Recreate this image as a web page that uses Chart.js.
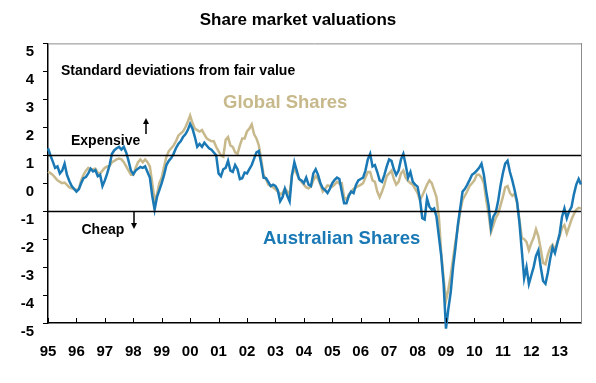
<!DOCTYPE html>
<html><head><meta charset="utf-8">
<script src="https://cdn.jsdelivr.net/npm/chart.js@4.4.1/dist/chart.umd.min.js"></script>
<style>html,body{margin:0;padding:0;background:#fff}canvas{display:block}</style>
</head><body>
<canvas id="c" width="596" height="383"></canvas>
<script>
const startYear = 1995;
const yearLabels = ['95','96','97','98','99','00','01','02','03','04','05','06','07','08','09','10','11','12','13'];

// monthly, Jan 1995 .. Oct 2013 (standard deviations from fair value)
const australianShares = [
  1.25, 1.0, 0.78, 0.55, 0.6, 0.35, 0.45, 0.7, 0.3, 0.08, -0.1, -0.2,
  -0.3, -0.22, 0.0, 0.18, 0.22, 0.35, 0.52, 0.42, 0.47, 0.25, 0.3, -0.1,
  0.1, 0.35, 0.65, 1.05, 1.18, 1.25, 1.3, 1.2, 1.3, 1.1, 0.8, 0.45,
  0.32, 0.45, 0.52, 0.58, 0.55, 0.6, 0.4, 0.2, -0.45, -0.95, -0.5, -0.25,
  0.0, 0.3, 0.65, 0.8, 0.9, 1.05, 1.25, 1.4, 1.5, 1.65, 1.75, 1.9,
  2.12, 1.95, 1.65, 1.3, 1.4, 1.3, 1.45, 1.35, 1.25, 1.2, 1.1, 1.0,
  0.35, 0.25, 0.5, 0.55, 0.8, 0.45, 0.4, 0.65, 0.5, 0.15, 0.18, 0.38,
  0.35, 0.5, 0.65, 0.88, 1.1, 1.15, 0.7, 0.2, 0.18, 0.05, -0.1, -0.05,
  -0.1, -0.25, -0.65, -0.5, -0.2, -0.45, -0.65, 0.3, 0.75, 0.45, 0.15, 0.1,
  0.0, 0.2, -0.05, -0.1, 0.35, 0.5, 0.3, 0.0, -0.18, -0.25, -0.35, -0.2,
  0.0, 0.12, 0.2, 0.15, -0.3, -0.72, -0.72, -0.45, -0.3, -0.35, -0.06, 0.1,
  0.15, 0.2, 0.45, 0.85, 1.05, 0.6, 0.65, 0.4, 0.1, 0.05, 0.3, 0.6,
  0.85, 0.8, 0.5, 0.3, 0.45, 0.85, 1.05, 0.65, 0.2, 0.4, 0.05, -0.05,
  -0.12, -0.55, -1.25, -1.3, -0.55, -0.84, -0.95, -0.9, -1.2, -1.9, -2.6, -3.6,
  -5.2, -4.5, -3.9, -3.0, -2.3, -1.5, -0.9, -0.3, -0.2, -0.05, 0.12, 0.3,
  0.36, 0.45, 0.55, 0.7, 0.3, -0.3, -0.8, -1.6, -1.2, -1.05, -0.65, -0.1,
  0.35, 0.7, 0.8, 0.4, 0.1, -0.25, -0.65, -1.4, -2.4, -3.4, -3.0, -3.6,
  -3.3, -3.0, -2.6, -2.4, -3.0, -3.5, -3.6, -3.2, -2.7, -2.3, -2.5, -2.15,
  -1.8, -1.2, -0.9, -1.25, -1.0, -0.85, -0.4, -0.05, 0.15, -0.05
];
const globalShares = [
  0.41, 0.36, 0.3, 0.2, 0.1, 0.05, 0.0, 0.02, -0.06, -0.15, -0.18, -0.22,
  -0.24, -0.2, 0.1, 0.3, 0.45, 0.55, 0.5, 0.5, 0.52, 0.38, 0.35, 0.45,
  0.55, 0.6, 0.62, 0.75, 0.8, 0.85, 0.88, 0.85, 0.75, 0.6, 0.45, 0.3,
  0.3, 0.55, 0.75, 0.85, 0.75, 0.85, 0.75, 0.6, 0.0, -0.6, -0.4, 0.0,
  0.2, 0.6, 0.95, 1.15, 1.25, 1.35, 1.5, 1.7, 1.78, 1.85, 2.0, 2.2,
  2.42, 2.15, 1.95, 1.9, 1.85, 1.9, 1.75, 1.6, 1.55, 1.5, 1.5, 1.3,
  1.15, 1.0, 0.95, 1.55, 1.65, 1.35, 1.3, 1.1, 1.05, 1.35, 1.6, 1.6,
  1.85, 1.95, 2.1, 1.75, 1.6, 1.35, 0.85, 0.3, 0.15, -0.05, -0.1, -0.15,
  -0.22, -0.3, -0.4, -0.35, -0.2, -0.3, -0.4, 0.3, 0.5, 0.35, 0.15, 0.05,
  -0.05, -0.15, -0.18, -0.12, 0.1, 0.25, 0.15, -0.05, -0.3, -0.2, -0.08, -0.1,
  -0.12, -0.05, 0.05, -0.02, 0.0, -0.5, -0.6, -0.4, -0.3, -0.2, -0.15, -0.1,
  -0.06, 0.0, 0.2, 0.4, 0.4, 0.1, 0.05, -0.3, -0.5, -0.3, -0.05, 0.25,
  0.35, 0.45, 0.15, -0.05, 0.05, 0.35, 0.45, 0.2, 0.08, 0.0, -0.05, -0.2,
  -0.35, -0.6, -0.45, -0.25, -0.05, 0.1, 0.0, -0.25, -0.5, -1.2, -2.5, -3.4,
  -4.2, -3.8, -3.3, -2.7, -2.1, -1.6, -1.0, -0.6, -0.45, -0.28, -0.1, 0.0,
  0.1, 0.3, 0.3, 0.2, 0.0, -0.6, -1.1, -1.75, -1.5, -1.25, -1.1, -0.8,
  -0.5, -0.15, -0.1, -0.35, -0.45, -0.38, -0.7, -1.3, -1.95, -2.0, -2.1, -2.4,
  -2.15, -1.95, -1.65, -1.9, -2.35, -2.85, -2.9, -2.55, -2.3, -2.2, -2.4, -2.1,
  -1.9, -1.6, -1.5, -1.8, -1.55, -1.3, -1.1, -0.95, -0.88, -0.9
];
const bandLevels = [1, -1];

const BLUE = '#1a79b5';
const TAN = '#c7b98c';
const FONT = "'Liberation Sans', Arial, sans-serif";

function toPoints(arr) { return arr.map((v, i) => ({ x: startYear + i / 12, y: v })); }

function arrow(ctx, x, yTail, yHead) {
  const dir = yHead > yTail ? 1 : -1;
  ctx.beginPath();
  ctx.moveTo(x, yTail);
  ctx.lineTo(x, yHead - dir * 4);
  ctx.stroke();
  ctx.beginPath();
  ctx.moveTo(x, yHead);
  ctx.lineTo(x - 3, yHead - dir * 6);
  ctx.lineTo(x + 3, yHead - dir * 6);
  ctx.closePath();
  ctx.fill();
}

const decor = {
  id: 'decor',
  afterDatasetsDraw(chart) {
    const { ctx, chartArea, scales } = chart;
    const xs = scales.x, ys = scales.y;
    ctx.save();
    ctx.strokeStyle = '#000';
    ctx.lineWidth = 1.3;
    bandLevels.forEach(v => {
      const py = Math.round(ys.getPixelForValue(v)) + 0.5;
      ctx.beginPath();
      ctx.moveTo(chartArea.left, py);
      ctx.lineTo(chartArea.right, py);
      ctx.stroke();
    });
    ctx.strokeStyle = '#8c8c8c';
    ctx.lineWidth = 1;
    ctx.beginPath();
    ctx.moveTo(chartArea.left, chartArea.top + 0.5);
    ctx.lineTo(chartArea.right, chartArea.top + 0.5);
    ctx.stroke();
    ctx.strokeStyle = '#000';
    ctx.lineWidth = 1;
    xs.ticks.forEach(t => {
      const px = Math.round(xs.getPixelForValue(t.value)) + 0.5;
      ctx.beginPath();
      ctx.moveTo(px, chartArea.bottom);
      ctx.lineTo(px, chartArea.bottom - 5);
      ctx.stroke();
    });
    ctx.textBaseline = 'middle';
    ctx.textAlign = 'left';
    ctx.fillStyle = '#000';
    ctx.font = "bold 14px " + FONT;
    ctx.fillText('Standard deviations from fair value', 61, 71.5);
    ctx.fillText('Expensive', 71, 141.5);
    ctx.fillText('Cheap', 81.5, 230.5);
    ctx.strokeStyle = '#000';
    ctx.lineWidth = 1.5;
    arrow(ctx, 146, 134, 118);
    arrow(ctx, 134, ys.getPixelForValue(-1), 229);
    ctx.font = "bold 18.5px " + FONT;
    ctx.fillStyle = TAN;
    ctx.fillText('Global Shares', 223, 103);
    ctx.fillStyle = BLUE;
    ctx.fillText('Australian Shares', 263, 239);
    ctx.restore();
  }
};

new Chart(document.getElementById('c'), {
  type: 'line',
  data: {
    datasets: [
      { label: 'Australian Shares', data: toPoints(australianShares), borderColor: BLUE, borderWidth: 2.5, pointRadius: 0, tension: 0, clip: false },
      { label: 'Global Shares', data: toPoints(globalShares), borderColor: TAN, borderWidth: 2.5, pointRadius: 0, tension: 0, clip: false }
    ]
  },
  options: {
    responsive: false,
    animation: false,
    devicePixelRatio: 1,
    layout: { padding: 0 },
    plugins: {
      legend: { display: false },
      tooltip: { enabled: false },
      title: {
        display: true,
        text: 'Share market valuations',
        color: '#000',
        font: { family: FONT, size: 17, weight: 'bold' },
        padding: { top: 10, bottom: 13 }
      }
    },
    scales: {
      x: {
        type: 'linear',
        position: 'bottom',
        min: startYear,
        max: startYear + (australianShares.length - 1) / 12,
        afterFit(s) { s.height = 60; },
        grid: { display: false, drawTicks: false },
        border: { display: true, color: '#000', width: 1.5 },
        ticks: {
          stepSize: 1, autoSkip: false, includeBounds: false, maxRotation: 0, padding: 20,
          color: '#000', font: { family: FONT, size: 15, weight: 'bold' },
          callback: (v) => yearLabels[Math.round(v - startYear)]
        }
      },
      y: {
        min: -5, max: 5,
        afterFit(s) { s.width = 48; },
        grid: { drawOnChartArea: false, drawTicks: true, tickLength: 5, color: '#000', lineWidth: 1 },
        border: { color: '#000', width: 1.5 },
        ticks: { stepSize: 1, padding: 9, labelOffset: 8.5, color: '#000', font: { family: FONT, size: 15, weight: 'bold' } }
      },
      y2: {
        position: 'right',
        min: -5, max: 5,
        afterFit(s) { s.width = 15; },
        grid: { display: false, drawTicks: false },
        border: { display: true, color: '#8c8c8c', width: 1 },
        ticks: { display: false }
      }
    }
  },
  plugins: [decor]
});
</script>
</body></html>
